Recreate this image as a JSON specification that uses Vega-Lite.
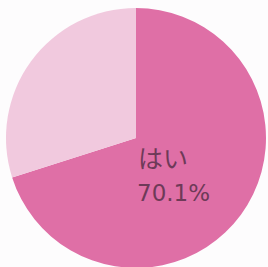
{
  "$schema": "https://vega.github.io/schema/vega-lite/v6.json",
  "width": 268,
  "height": 268,
  "autosize": "none",
  "padding": {"left": 2, "top": 4, "right": 0, "bottom": 0},
  "background": "#fdfcfd",
  "data": {"values": [
    {"answer": "はい", "pct": 70.1, "ord": 1, "label": "70.1%"},
    {"answer": "いいえ", "pct": 29.9, "ord": 2, "label": ""}
  ]},
  "layer": [
    {
      "mark": {"type": "arc", "outerRadius": 130},
      "encoding": {
        "theta": {"field": "pct", "type": "quantitative", "stack": true},
        "order": {"field": "ord", "type": "quantitative"},
        "color": {"field": "answer", "type": "nominal", "scale": {"domain": ["はい", "いいえ"], "range": ["#df6fa6", "#f1c9de"]}, "legend": null}
      }
    },
    {
      "transform": [{"filter": "datum.answer === 'はい'"}],
      "mark": {"type": "text", "radius": 0, "align": "left", "baseline": "middle", "dx": 2, "dy": 22, "fontSize": 25, "font": "Noto Sans CJK JP", "color": "#6e3a58"},
      "encoding": {"text": {"field": "answer"}}
    },
    {
      "transform": [{"filter": "datum.answer === 'はい'"}],
      "mark": {"type": "text", "radius": 0, "align": "left", "baseline": "middle", "dx": 1, "dy": 56, "fontSize": 23, "font": "DejaVu Sans", "color": "#6e3a58"},
      "encoding": {"text": {"field": "label"}}
    }
  ]
}
